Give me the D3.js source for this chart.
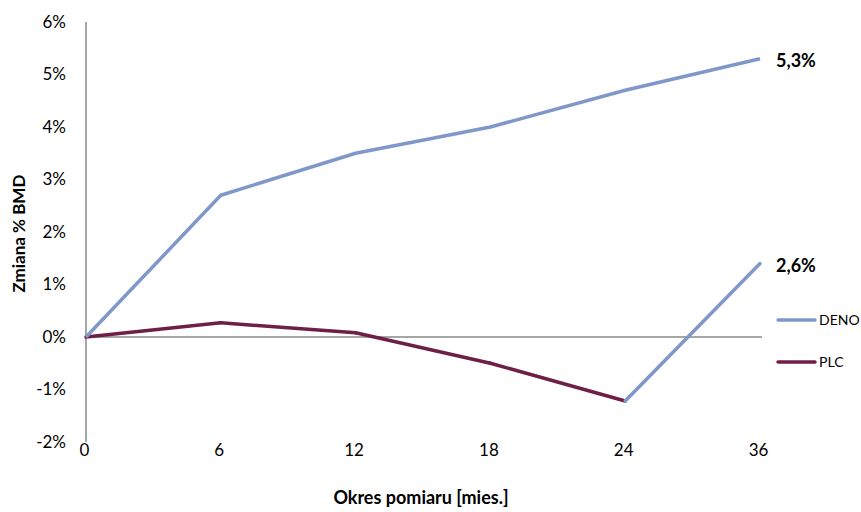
<!DOCTYPE html>
<html>
<head>
<meta charset="utf-8">
<script src="https://cdn.jsdelivr.net/npm/d3@7"></script>
<style>
  html, body { margin: 0; padding: 0; background: #fff; }
  svg { display: block; font-family: Lato, "Open Sans", sans-serif; }
</style>
</head>
<body>
<svg id="chart" width="861" height="512"></svg>
<script>
// Months of measurement
const categories = ["0", "6", "12", "18", "24", "36"];
// % change in BMD
const denoValues = [0, 2.7, 3.5, 4.0, 4.7, 5.3];
const plcValues = [0, 0.27, 0.08, -0.5, -1.22, 1.4];
// Colour of each PLC segment (the last one is drawn in the DENO colour)
const plcSegmentSeries = ["PLC", "PLC", "PLC", "PLC", "DENO"];
const yTicks = [-2, -1, 0, 1, 2, 3, 4, 5, 6];
const endLabels = [
  { series: "DENO", text: "5,3%" },
  { series: "PLC", text: "2,6%" }
];
const legendItems = ["DENO", "PLC"];

const colors = { DENO: "#7f98c9", PLC: "#6e1f46" };

const svg = d3.select("#chart");
const x = d3.scalePoint().domain(categories).range([86, 760]).padding(0);
const y = d3.scaleLinear().domain([-2, 6]).range([442, 22]);

// Axes
svg.append("line")
  .attr("x1", x(categories[0])).attr("x2", x(categories[0]))
  .attr("y1", y(6)).attr("y2", y(-2))
  .attr("stroke", "#888").attr("stroke-width", 1.5);
svg.append("line")
  .attr("x1", x(categories[0])).attr("x2", x(categories[categories.length - 1]) + 2)
  .attr("y1", y(0)).attr("y2", y(0))
  .attr("stroke", "#888").attr("stroke-width", 1.5);

const yAxis = d3.axisLeft(y).tickValues(yTicks).tickSize(0).tickPadding(20)
  .tickFormat(d => d + "%");
const gy = svg.append("g").attr("transform", `translate(${x(categories[0])},0)`).call(yAxis);
gy.select(".domain").remove();
gy.selectAll("text").attr("font-size", 17).attr("fill", "#000")
  .attr("font-family", "Lato, sans-serif");

const xAxis = d3.axisBottom(x).tickSize(0).tickPadding(0);
const gx = svg.append("g").attr("transform", `translate(-2,${y(-2) + 2})`).call(xAxis);
gx.select(".domain").remove();
gx.selectAll("text").attr("font-size", 17).attr("fill", "#000")
  .attr("font-family", "Lato, sans-serif");

// Axis titles
svg.append("text")
  .attr("transform", `translate(25,${y(1.97)}) rotate(-90)`)
  .attr("text-anchor", "middle")
  .attr("font-size", 17).attr("font-weight", "bold")
  .text("Zmiana % BMD");
svg.append("text")
  .attr("x", 421).attr("y", 504)
  .attr("text-anchor", "middle")
  .attr("font-size", 18).attr("font-weight", "bold")
  .text("Okres pomiaru [mies.]");

// Lines
const line = d3.line().x((d, i) => x(categories[i])).y(d => y(d));

// PLC segments
plcSegmentSeries.forEach((s, i) => {
  svg.append("path")
    .datum([plcValues[i], plcValues[i + 1]])
    .attr("d", d3.line().x((d, j) => x(categories[i + j])).y(d => y(d)))
    .attr("fill", "none")
    .attr("stroke", colors[s])
    .attr("stroke-width", 3.5)
    .attr("stroke-linecap", "round")
    .attr("stroke-linejoin", "round");
});

svg.append("path")
  .datum(denoValues)
  .attr("d", line)
  .attr("fill", "none")
  .attr("stroke", colors.DENO)
  .attr("stroke-width", 3.5)
  .attr("stroke-linejoin", "round");

// End labels
const last = categories.length - 1;
const lastVals = { DENO: denoValues[last], PLC: plcValues[last] };
endLabels.forEach(l => {
  svg.append("text")
    .attr("x", x(categories[last]) + 16)
    .attr("y", y(lastVals[l.series]) + 8)
    .attr("font-size", 18).attr("font-weight", "bold")
    .text(l.text);
});

// Legend
legendItems.forEach((s, i) => {
  const ly = 320 + i * 42;
  svg.append("line")
    .attr("x1", 778).attr("x2", 815)
    .attr("y1", ly).attr("y2", ly)
    .attr("stroke", colors[s]).attr("stroke-width", 3.5)
    .attr("stroke-linecap", "round");
  svg.append("text")
    .attr("x", 819).attr("y", ly + 5)
    .attr("font-size", 14)
    .text(s);
});
</script>
</body>
</html>
